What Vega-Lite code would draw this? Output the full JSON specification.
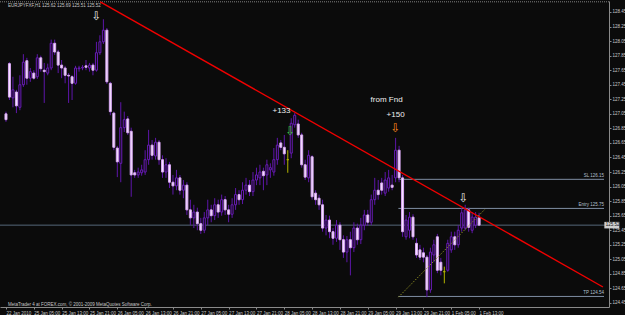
{
  "$schema": "https://vega.github.io/schema/vega-lite/v6.json",
  "width": 609,
  "height": 306,
  "autosize": {"type": "none"},
  "padding": {"left": 0, "top": 1, "right": 16, "bottom": 8},
  "background": "#0b0b0b",
  "config": {"view": {"stroke": null}, "text": {"font": "Liberation Sans"}},
  "datasets": {
    "candles": [
      {"i":0,"o":127.05,"h":127.08,"l":126.94,"c":126.97},
      {"i":1,"o":127.74,"h":127.76,"l":127.24,"c":127.28},
      {"i":2,"o":127.27,"h":127.56,"l":127.14,"c":127.38},
      {"i":3,"o":127.35,"h":127.38,"l":127.06,"c":127.16},
      {"i":4,"o":127.14,"h":127.58,"l":127.10,"c":127.45},
      {"i":5,"o":127.45,"h":127.87,"l":127.42,"c":127.76},
      {"i":6,"o":127.78,"h":127.82,"l":127.45,"c":127.54},
      {"i":7,"o":127.54,"h":127.68,"l":127.49,"c":127.63},
      {"i":8,"o":127.61,"h":127.65,"l":127.52,"c":127.54},
      {"i":9,"o":127.56,"h":127.87,"l":127.53,"c":127.82},
      {"i":10,"o":127.82,"h":127.85,"l":127.63,"c":127.67},
      {"i":11,"o":127.65,"h":127.75,"l":127.20,"c":127.63},
      {"i":12,"o":127.61,"h":127.74,"l":127.58,"c":127.68},
      {"i":13,"o":127.68,"h":128.07,"l":127.65,"c":128.02},
      {"i":14,"o":128.02,"h":128.07,"l":127.86,"c":127.90},
      {"i":15,"o":127.90,"h":127.93,"l":127.61,"c":127.72},
      {"i":16,"o":127.72,"h":127.79,"l":127.54,"c":127.68},
      {"i":17,"o":127.68,"h":127.71,"l":127.47,"c":127.58},
      {"i":18,"o":127.58,"h":127.61,"l":127.20,"c":127.57},
      {"i":19,"o":127.56,"h":127.58,"l":127.24,"c":127.47},
      {"i":20,"o":127.47,"h":127.71,"l":127.45,"c":127.68},
      {"i":21,"o":127.67,"h":127.71,"l":127.63,"c":127.68},
      {"i":22,"o":127.68,"h":127.72,"l":127.65,"c":127.69},
      {"i":23,"o":127.71,"h":127.79,"l":127.65,"c":127.69},
      {"i":24,"o":127.68,"h":127.75,"l":127.63,"c":127.72},
      {"i":25,"o":127.72,"h":127.75,"l":127.58,"c":127.65},
      {"i":26,"o":127.65,"h":128.04,"l":127.63,"c":127.89},
      {"i":27,"o":127.89,"h":128.13,"l":127.86,"c":128.04},
      {"i":28,"o":128.04,"h":128.35,"l":128.01,"c":128.20},
      {"i":29,"o":128.20,"h":128.23,"l":127.46,"c":127.49},
      {"i":30,"o":127.47,"h":127.49,"l":127.03,"c":127.08},
      {"i":31,"o":127.06,"h":127.08,"l":126.55,"c":126.59},
      {"i":32,"o":126.58,"h":126.61,"l":126.18,"c":126.39},
      {"i":33,"o":126.37,"h":127.21,"l":126.11,"c":126.86},
      {"i":34,"o":126.86,"h":127.08,"l":126.80,"c":126.97},
      {"i":35,"o":126.98,"h":127.02,"l":126.76,"c":126.79},
      {"i":36,"o":126.81,"h":126.86,"l":125.91,"c":126.21},
      {"i":37,"o":126.24,"h":126.28,"l":126.17,"c":126.21},
      {"i":38,"o":126.21,"h":126.31,"l":126.17,"c":126.25},
      {"i":39,"o":126.24,"h":126.35,"l":126.20,"c":126.28},
      {"i":40,"o":126.25,"h":126.55,"l":126.21,"c":126.42},
      {"i":41,"o":126.42,"h":126.83,"l":126.35,"c":126.62},
      {"i":42,"o":126.62,"h":126.69,"l":126.42,"c":126.48},
      {"i":43,"o":126.47,"h":126.72,"l":126.42,"c":126.66},
      {"i":44,"o":126.66,"h":126.69,"l":126.35,"c":126.42},
      {"i":45,"o":126.42,"h":126.48,"l":126.17,"c":126.25},
      {"i":46,"o":126.25,"h":126.44,"l":126.17,"c":126.35},
      {"i":47,"o":126.35,"h":126.39,"l":126.03,"c":126.11},
      {"i":48,"o":126.11,"h":126.21,"l":125.94,"c":126.06},
      {"i":49,"o":126.06,"h":126.28,"l":126.00,"c":126.17},
      {"i":50,"o":126.17,"h":126.21,"l":125.94,"c":126.00},
      {"i":51,"o":126.00,"h":126.14,"l":125.89,"c":126.07},
      {"i":52,"o":126.07,"h":126.11,"l":125.66,"c":125.73},
      {"i":53,"o":125.73,"h":125.87,"l":125.52,"c":125.62},
      {"i":54,"o":125.62,"h":125.80,"l":125.48,"c":125.70},
      {"i":55,"o":125.70,"h":125.76,"l":125.45,"c":125.54},
      {"i":56,"o":125.54,"h":125.62,"l":125.40,"c":125.45},
      {"i":57,"o":125.45,"h":125.70,"l":125.41,"c":125.62},
      {"i":58,"o":125.62,"h":125.87,"l":125.52,"c":125.73},
      {"i":59,"o":125.73,"h":125.80,"l":125.56,"c":125.65},
      {"i":60,"o":125.65,"h":125.89,"l":125.59,"c":125.80},
      {"i":61,"o":125.80,"h":125.87,"l":125.62,"c":125.70},
      {"i":62,"o":125.70,"h":125.94,"l":125.65,"c":125.87},
      {"i":63,"o":125.87,"h":125.92,"l":125.66,"c":125.73},
      {"i":64,"o":125.73,"h":125.80,"l":125.56,"c":125.67},
      {"i":65,"o":125.67,"h":125.89,"l":125.62,"c":125.80},
      {"i":66,"o":125.80,"h":126.03,"l":125.73,"c":125.94},
      {"i":67,"o":125.94,"h":126.00,"l":125.80,"c":125.87},
      {"i":68,"o":125.87,"h":126.11,"l":125.81,"c":126.00},
      {"i":69,"o":126.00,"h":126.17,"l":125.94,"c":126.07},
      {"i":70,"o":126.07,"h":126.14,"l":125.92,"c":125.98},
      {"i":71,"o":125.98,"h":126.25,"l":125.92,"c":126.14},
      {"i":72,"o":126.14,"h":126.31,"l":126.07,"c":126.21},
      {"i":73,"o":126.17,"h":126.35,"l":126.07,"c":126.25},
      {"i":74,"o":126.26,"h":126.31,"l":126.00,"c":126.20},
      {"i":75,"o":126.21,"h":126.42,"l":126.07,"c":126.35},
      {"i":76,"o":126.28,"h":126.37,"l":126.17,"c":126.31},
      {"i":77,"o":126.25,"h":126.58,"l":126.20,"c":126.42},
      {"i":78,"o":126.42,"h":126.72,"l":126.35,"c":126.62},
      {"i":79,"o":126.65,"h":126.69,"l":126.55,"c":126.59},
      {"i":80,"o":126.59,"h":126.76,"l":126.35,"c":126.50},
      {"i":81,"o":126.42,"h":126.55,"l":126.24,"c":126.42},
      {"i":82,"o":126.51,"h":126.99,"l":126.44,"c":126.92},
      {"i":83,"o":126.90,"h":127.06,"l":126.86,"c":127.03},
      {"i":84,"o":126.91,"h":126.97,"l":126.72,"c":126.76},
      {"i":85,"o":126.76,"h":126.79,"l":126.31,"c":126.35},
      {"i":86,"o":126.35,"h":126.42,"l":126.14,"c":126.18},
      {"i":87,"o":126.17,"h":126.55,"l":126.11,"c":126.48},
      {"i":88,"o":126.46,"h":126.48,"l":125.87,"c":125.91},
      {"i":89,"o":125.96,"h":126.00,"l":125.80,"c":125.87},
      {"i":90,"o":125.89,"h":125.94,"l":125.73,"c":125.80},
      {"i":91,"o":125.80,"h":125.87,"l":125.43,"c":125.48},
      {"i":92,"o":125.48,"h":125.66,"l":125.38,"c":125.59},
      {"i":93,"o":125.59,"h":125.65,"l":125.34,"c":125.43},
      {"i":94,"o":125.43,"h":125.48,"l":125.25,"c":125.34},
      {"i":95,"o":125.34,"h":125.59,"l":125.29,"c":125.52},
      {"i":96,"o":125.52,"h":125.56,"l":125.18,"c":125.32},
      {"i":97,"o":125.32,"h":125.38,"l":125.07,"c":125.15},
      {"i":98,"o":125.15,"h":125.37,"l":125.01,"c":125.32},
      {"i":99,"o":125.32,"h":125.43,"l":124.83,"c":125.21},
      {"i":100,"o":125.21,"h":125.56,"l":125.15,"c":125.48},
      {"i":101,"o":125.48,"h":125.54,"l":125.25,"c":125.32},
      {"i":102,"o":125.32,"h":125.62,"l":125.26,"c":125.52},
      {"i":103,"o":125.52,"h":125.73,"l":125.45,"c":125.66},
      {"i":104,"o":125.66,"h":125.73,"l":125.51,"c":125.56},
      {"i":105,"o":125.56,"h":125.94,"l":125.52,"c":125.87},
      {"i":106,"o":125.87,"h":126.17,"l":125.80,"c":126.00},
      {"i":107,"o":126.00,"h":126.14,"l":125.87,"c":125.94},
      {"i":108,"o":126.10,"h":126.17,"l":125.94,"c":126.00},
      {"i":109,"o":125.96,"h":126.25,"l":125.92,"c":126.14},
      {"i":110,"o":126.03,"h":126.28,"l":125.98,"c":126.17},
      {"i":111,"o":126.07,"h":126.21,"l":126.00,"c":126.04},
      {"i":112,"o":126.17,"h":126.72,"l":126.11,"c":126.55},
      {"i":113,"o":126.55,"h":126.61,"l":126.11,"c":126.17},
      {"i":114,"o":126.17,"h":126.21,"l":125.36,"c":125.43},
      {"i":115,"o":125.36,"h":125.66,"l":125.32,"c":125.59},
      {"i":116,"o":125.45,"h":125.70,"l":125.34,"c":125.63},
      {"i":117,"o":125.63,"h":125.67,"l":125.32,"c":125.36},
      {"i":118,"o":125.27,"h":125.34,"l":125.07,"c":125.11},
      {"i":119,"o":125.18,"h":125.25,"l":125.04,"c":125.08},
      {"i":120,"o":125.14,"h":125.21,"l":125.01,"c":125.08},
      {"i":121,"o":125.08,"h":125.11,"l":124.53,"c":124.63},
      {"i":122,"o":124.63,"h":125.21,"l":124.59,"c":125.15},
      {"i":123,"o":125.11,"h":125.32,"l":125.01,"c":125.25},
      {"i":124,"o":125.36,"h":125.40,"l":124.86,"c":124.90},
      {"i":125,"o":125.01,"h":125.07,"l":124.83,"c":124.90},
      {"i":126,"o":124.88,"h":124.95,"l":124.72,"c":124.88},
      {"i":127,"o":124.90,"h":125.32,"l":124.88,"c":125.27},
      {"i":128,"o":125.18,"h":125.43,"l":125.14,"c":125.36},
      {"i":129,"o":125.36,"h":125.43,"l":125.18,"c":125.25},
      {"i":130,"o":125.25,"h":125.52,"l":125.21,"c":125.45},
      {"i":131,"o":125.48,"h":125.76,"l":125.43,"c":125.69},
      {"i":132,"o":125.48,"h":125.80,"l":125.45,"c":125.73},
      {"i":133,"o":125.73,"h":125.76,"l":125.43,"c":125.49},
      {"i":134,"o":125.45,"h":125.70,"l":125.41,"c":125.63},
      {"i":135,"o":125.52,"h":125.70,"l":125.48,"c":125.63},
      {"i":136,"o":125.62,"h":125.69,"l":125.51,"c":125.52}
    ]
  },
  "encoding": {
    "x": {
      "field": "i", "type": "quantitative",
      "scale": {"domain": [-0.28, 171.9], "nice": false, "zero": false},
      "axis": {
        "orient": "bottom", "title": null, "grid": false,
        "values": [0,8,16,24,32,40,48,56,64,72,80,88,96,104,112,120,128,136],
        "labelExpr": "['22 Jan 2010','25 Jan 05:00','25 Jan 13:00','25 Jan 21:00','26 Jan 05:00','26 Jan 13:00','26 Jan 21:00','27 Jan 05:00','27 Jan 13:00','27 Jan 21:00','28 Jan 05:00','28 Jan 13:00','28 Jan 21:00','29 Jan 05:00','29 Jan 13:00','29 Jan 21:00','1 Feb 05:00','1 Feb 13:00'][round(datum.value/8)]",
        "labelAlign": "left", "labelDx": 1, "labelBaseline": "top",
        "labelFont": "Liberation Sans", "labelFontSize": 4.5, "labelColor": "#c8c8c8",
        "labelPadding": 1, "labelOverlap": false, "labelBound": false, "labelFlush": false,
        "domainColor": "#8a8a8a", "tickColor": "#8a8a8a", "tickSize": 2
      }
    },
    "y": {
      "type": "quantitative",
      "scale": {"domain": [124.395, 128.601], "nice": false, "zero": false},
      "axis": {
        "orient": "right", "title": null, "grid": false,
        "values": [124.45,124.65,124.85,125.05,125.25,125.45,125.65,125.85,126.05,126.25,126.45,126.65,126.85,127.05,127.25,127.45,127.65,127.85,128.05,128.25,128.45],
        "format": ".2f",
        "labelFont": "Liberation Sans", "labelFontSize": 4.5, "labelColor": "#c8c8c8",
        "labelPadding": 1, "labelOverlap": false, "labelBound": false, "labelFlush": false,
        "domainColor": "#8a8a8a", "tickColor": "#8a8a8a", "tickSize": 2
      }
    }
  },
  "layer": [
    {
      "data": {"values": [{"p": 128.59}]},
      "mark": {"type": "rule", "color": "#808080", "strokeDash": [1, 1], "strokeWidth": 1},
      "encoding": {"y": {"field": "p", "type": "quantitative"}, "x": null}
    },
    {
      "data": {"values": [{"p": 125.52}]},
      "mark": {"type": "rule", "color": "#56677a", "strokeWidth": 1},
      "encoding": {"y": {"field": "p", "type": "quantitative"}, "x": null}
    },
    {
      "data": {"values": [
        {"i": 112.8, "i2": 171.9, "p": 126.15, "t": "SL 126.15"},
        {"i": 112.8, "i2": 171.9, "p": 125.75, "t": "Entry 125.75"},
        {"i": 112.8, "i2": 171.9, "p": 124.54, "t": "TP 124.54"}
      ]},
      "layer": [
        {
          "mark": {"type": "rule", "color": "#7f8ea3", "strokeWidth": 1},
          "encoding": {"x2": {"field": "i2"}, "y": {"field": "p", "type": "quantitative"}}
        },
        {
          "mark": {"type": "text", "align": "right", "baseline": "bottom", "dy": -1, "fontSize": 4.5, "color": "#b4c0d0"},
          "encoding": {"x": {"field": "i2", "type": "quantitative"}, "y": {"field": "p", "type": "quantitative"}, "text": {"field": "t"}}
        }
      ]
    },
    {
      "data": {"name": "candles"},
      "mark": {"type": "rule", "strokeWidth": 1},
      "encoding": {
        "y": {"field": "l", "type": "quantitative"},
        "y2": {"field": "h"},
        "color": {
          "condition": [{"test": "datum.c == datum.o", "value": "#b4b400"}],
          "value": "#5e16aa"
        }
      }
    },
    {
      "data": {"name": "candles"},
      "mark": {"type": "bar", "size": 2, "strokeWidth": 1},
      "encoding": {
        "y": {"field": "o", "type": "quantitative"},
        "y2": {"field": "c"},
        "fill": {
          "condition": [
            {"test": "datum.c == datum.o", "value": "#b4b400"},
            {"test": "datum.c < datum.o", "value": "#f6e4ff"}
          ],
          "value": "#0b0b0b"
        },
        "stroke": {
          "condition": [
            {"test": "datum.c == datum.o", "value": "#b4b400"},
            {"test": "datum.c < datum.o", "value": "#d7a6f2"}
          ],
          "value": "#6a1cb8"
        }
      }
    },
    {
      "data": {"values": [{"i": 27.1, "p": 128.59}, {"i": 171.6, "p": 124.67}]},
      "mark": {"type": "line", "color": "#f00000", "strokeWidth": 1.4},
      "encoding": {"y": {"field": "p", "type": "quantitative"}}
    },
    {
      "data": {"values": [{"i": 112.8, "p": 124.53}, {"i": 137.7, "p": 125.74}]},
      "mark": {"type": "line", "color": "#8c8c22", "strokeWidth": 1, "strokeDash": [1.5, 1.5]},
      "encoding": {"y": {"field": "p", "type": "quantitative"}}
    },
    {
      "data": {"values": [
        {"i": 26.0, "p": 128.40, "t": "⇩"},
        {"i": 131.5, "p": 125.89, "t": "⇩"}
      ]},
      "mark": {"type": "text", "font": "DejaVu Sans", "fontSize": 12, "align": "center", "baseline": "middle", "color": "#e8e8e8"},
      "encoding": {"y": {"field": "p", "type": "quantitative"}, "text": {"field": "t"}}
    },
    {
      "data": {"values": [{"i": 81.7, "p": 126.81, "t": "⇩"}]},
      "mark": {"type": "text", "font": "DejaVu Sans", "fontSize": 12, "align": "center", "baseline": "middle", "color": "#3cc83c"},
      "encoding": {"y": {"field": "p", "type": "quantitative"}, "text": {"field": "t"}}
    },
    {
      "data": {"values": [{"i": 112.0, "p": 126.86, "t": "⇩"}]},
      "mark": {"type": "text", "font": "DejaVu Sans", "fontSize": 12, "align": "center", "baseline": "middle", "color": "#ff8a1a"},
      "encoding": {"y": {"field": "p", "type": "quantitative"}, "text": {"field": "t"}}
    },
    {
      "data": {"values": [
        {"i": 79.2, "p": 127.09, "t": "+133"},
        {"i": 109.4, "p": 127.24, "t": "from Fnd"},
        {"i": 112.0, "p": 127.03, "t": "+150"}
      ]},
      "mark": {"type": "text", "font": "Liberation Sans", "fontSize": 8, "color": "#f0f0f0", "align": "center", "baseline": "middle"},
      "encoding": {"y": {"field": "p", "type": "quantitative"}, "text": {"field": "t"}}
    },
    {
      "data": {"values": [
        {"i": 0.55, "p": 128.53, "t": "EURJPYFXF,H1  125.62 125.69 125.51 125.52"},
        {"i": 0.55, "p": 124.42, "t": "MetaTrader 4 at FOREX.com, © 2001-2009 MetaQuotes Software Corp."}
      ]},
      "mark": {"type": "text", "font": "Liberation Sans", "fontSize": 4.5, "color": "#c8c8c8", "align": "left", "baseline": "middle"},
      "encoding": {"y": {"field": "p", "type": "quantitative"}, "text": {"field": "t"}}
    },
    {
      "data": {"values": [{"i": 172.0, "i2": 176.3, "p": 125.475, "p2": 125.565, "t": "125.52"}]},
      "layer": [
        {
          "mark": {"type": "rect", "color": "#cfcfcf"},
          "encoding": {"x2": {"field": "i2"}, "y": {"field": "p", "type": "quantitative"}, "y2": {"field": "p2"}}
        },
        {
          "mark": {"type": "text", "fontSize": 4.5, "color": "#101010", "align": "left", "baseline": "middle", "dx": 1.5},
          "encoding": {"y": {"datum": 125.52}, "text": {"field": "t"}}
        }
      ]
    }
  ]
}
